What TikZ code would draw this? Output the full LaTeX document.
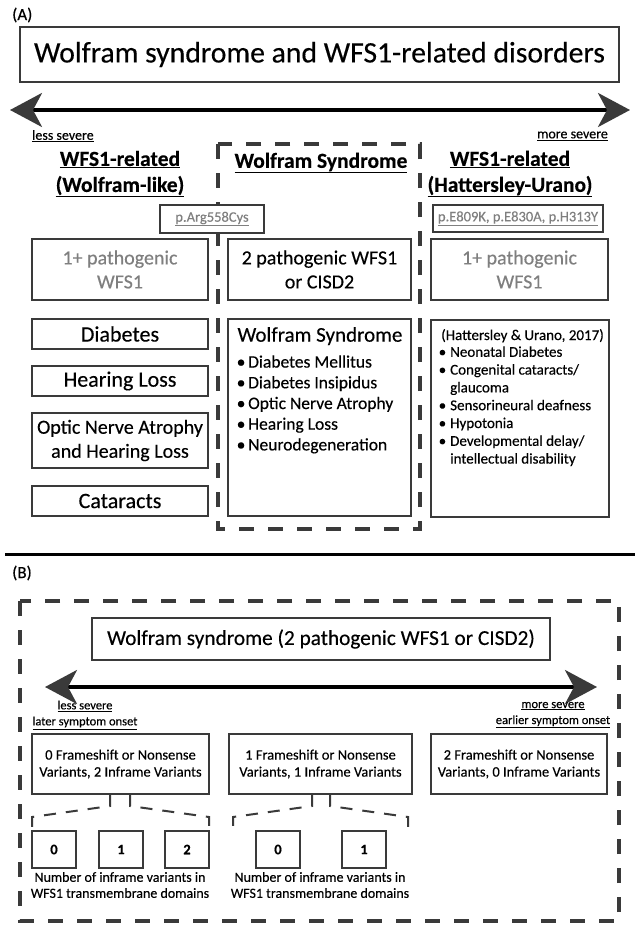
\documentclass[tikz,border=0pt]{standalone}
\usepackage{fontspec}
\setmainfont{Carlito}[FakeBold=0.3]
\usetikzlibrary{arrows.meta,calc}
\definecolor{dgray}{HTML}{3A3A3A}
\definecolor{tgray}{HTML}{7F7F7F}
\newcommand{\fsz}[2]{\fontsize{#1}{#2}\selectfont}
\newcommand{\bul}{\makebox[11.5pt][l]{\textbullet}}
\begin{document}
\begin{tikzpicture}[x=1pt,y=-1pt,
  box/.style={draw=dgray, line width=1.2pt, fill=white, inner sep=0pt, align=center},
  dashbox/.style={draw=dgray, line width=4pt, dash pattern=on 15pt off 14pt},
  brk/.style={draw=dgray, line width=2pt, dash pattern=on 12pt off 10pt},
  sev/.style={{Stealth[length=32pt,width=34pt,inset=9pt,color=dgray]}-{Stealth[length=32pt,width=34pt,inset=9pt,color=dgray]}, line width=3.5pt, draw=black},
  lbl/.style={inner sep=0pt, align=center},
  lft/.style={inner sep=0pt, anchor=base west},
]
\useasboundingbox (0,0) rectangle (640,931);
\fill[white] (0,0) rectangle (640,931);

% ---------------- Part A ----------------
\node[lbl, anchor=west, font=\fsz{17}{20}] (labA) at (12,15) {(A)};
\node[box, minimum width=599pt, minimum height=55pt, font=\fsz{29.7}{36}] (titleA) at (319.5,54.5) {Wolfram syndrome and WFS1-related disorders};

\coordinate (aL) at (10,110);
\coordinate (aR) at (630,110);
\draw[sev] (aL) -- (aR);

\node[lbl, anchor=west, font=\fsz{14}{16}] (lessA) at (32,136) {\underline{less severe}};
\node[lbl, anchor=east, font=\fsz{14}{16}] (moreA) at (608,136) {\underline{more severe}};

\node[lbl, font=\bfseries\fsz{21.5}{26}] (hL) at (120,174) {\underline{WFS1-related}\\\underline{(Wolfram-like)}};
\node[lbl, font=\bfseries\fsz{21.5}{26}] (hC) at (321,163) {\underline{Wolfram Syndrome}};
\node[lbl, font=\bfseries\fsz{21.5}{26}] (hR) at (510,174) {\underline{WFS1-related}\\\underline{(Hattersley-Urano)}};

% dashed frame round the Wolfram syndrome column
\draw[dashbox] (218,144) rectangle (420,529);

\node[box, minimum width=104pt, minimum height=28pt, font=\fsz{14.5}{17}, text=tgray] (pA) at (212,219) {\underline{p.Arg558Cys}};
\node[box, line width=1.7pt, minimum width=170pt, minimum height=27pt, font=\fsz{14.5}{17}, text=tgray] (pE) at (518,218.5) {\underline{p.E809K, p.E830A, p.H313Y}};

\node[box, minimum width=176pt, minimum height=61pt, font=\fsz{20}{24}, text=tgray] (r1L) at (120,269.5) {1+ pathogenic\\WFS1};
\node[box, minimum width=183pt, minimum height=61pt, font=\fsz{20}{24}] (r1C) at (319.5,269.5) {2 pathogenic WFS1\\or CISD2};
\node[box, minimum width=177pt, minimum height=61pt, font=\fsz{20}{24}, text=tgray] (r1R) at (519.5,269.5) {1+ pathogenic\\WFS1};

\node[box, minimum width=176pt, minimum height=30pt, font=\fsz{22}{26}] (dia) at (120,334) {Diabetes};
\node[box, minimum width=176pt, minimum height=30pt, font=\fsz{22}{26}] (hear) at (120,381) {Hearing Loss};
\node[box, minimum width=176pt, minimum height=55pt, font=\fsz{20}{24}] (optic) at (120,440.5) {Optic Nerve Atrophy\\and Hearing Loss};
\node[box, minimum width=176pt, minimum height=30pt, font=\fsz{22}{26}] (cat) at (120,501) {Cataracts};

\node[box, minimum width=183pt, minimum height=197pt] (ws) at (319.5,417.5) {};
\node[lbl, anchor=base, font=\fsz{21}{25}] (wsT) at (320,341.7) {Wolfram Syndrome};
\node[lft, font=\fsz{17.5}{20}] (ws1) at (236.5,367.6) {\bul Diabetes Mellitus};
\node[lft, font=\fsz{17.5}{20}] (ws2) at (236.5,388.3) {\bul Diabetes Insipidus};
\node[lft, font=\fsz{17.5}{20}] (ws3) at (236.5,409.0) {\bul Optic Nerve Atrophy};
\node[lft, font=\fsz{17.5}{20}] (ws4) at (236.5,429.7) {\bul Hearing Loss};
\node[lft, font=\fsz{17.5}{20}] (ws5) at (236.5,450.4) {\bul Neurodegeneration};

\node[box, minimum width=178pt, minimum height=197pt] (hu) at (520,418.5) {};
\node[lbl, anchor=base, font=\fsz{15}{18}] (hu0) at (522.5,340) {(Hattersley \& Urano, 2017)};
\node[lft, font=\fsz{15}{18}] (hu1) at (438.5,356.8) {\bul Neonatal Diabetes};
\node[lft, font=\fsz{15}{18}] (hu2) at (438.5,374.6) {\bul Congenital cataracts/};
\node[lft, font=\fsz{15}{18}] (hu3) at (438.5,392.4) {\makebox[11.5pt]{}glaucoma};
\node[lft, font=\fsz{15}{18}] (hu4) at (438.5,410.2) {\bul Sensorineural deafness};
\node[lft, font=\fsz{15}{18}] (hu5) at (438.5,428.0) {\bul Hypotonia};
\node[lft, font=\fsz{15}{18}] (hu6) at (438.5,445.8) {\bul Developmental delay/};
\node[lft, font=\fsz{15}{18}] (hu7) at (438.5,463.6) {\makebox[11.5pt]{}intellectual disability};

% separator
\coordinate (sepL) at (5,554);
\coordinate (sepR) at (635,554);
\draw[line width=3pt] (sepL) -- (sepR);

% ---------------- Part B ----------------
\node[lbl, anchor=west, font=\fsz{17}{20}] (labB) at (12,573) {(B)};
\draw[dashbox] (20,601) rectangle (619,921);

\node[box, minimum width=458pt, minimum height=42pt, font=\fsz{21.3}{25}] (titleB) at (321,639) {Wolfram syndrome (2 pathogenic WFS1 or CISD2)};

\coordinate (bL) at (45,687);
\coordinate (bR) at (597,687);
\draw[sev] (bL) -- (bR);

\node[lbl, font=\fsz{12.5}{16}] (lessB) at (85,715) {\underline{less severe}\\\underline{later symptom onset}};
\node[lbl, font=\fsz{12.5}{16}] (moreB) at (553,715) {\underline{more severe}\\\underline{earlier symptom onset}};

\node[box, minimum width=177pt, minimum height=60pt, font=\fsz{14.5}{17}] (b1) at (120.5,764) {0 Frameshift or Nonsense\\Variants, 2 Inframe Variants};
\node[box, minimum width=183pt, minimum height=60pt, font=\fsz{14.5}{17}] (b2) at (320.5,764) {1 Frameshift or Nonsense\\Variants, 1 Inframe Variants};
\node[box, minimum width=176pt, minimum height=60pt, font=\fsz{14.5}{17}] (b3) at (519,764) {2 Frameshift or Nonsense\\Variants, 0 Inframe Variants};

\node[box, minimum width=44pt, minimum height=37pt, font=\bfseries\fsz{14.5}{17}] (s0a) at (54,849.5) {0};
\node[box, minimum width=44pt, minimum height=37pt, font=\bfseries\fsz{14.5}{17}] (s1a) at (121,849.5) {1};
\node[box, minimum width=44pt, minimum height=37pt, font=\bfseries\fsz{14.5}{17}] (s2a) at (187,849.5) {2};
\node[box, minimum width=44pt, minimum height=37pt, font=\bfseries\fsz{14.5}{17}] (s0b) at (278,849.5) {0};
\node[box, minimum width=44pt, minimum height=37pt, font=\bfseries\fsz{14.5}{17}] (s1b) at (364,849.5) {1};

\node[lbl, font=\fsz{14}{16}] (cap1) at (120,885) {Number of inframe variants in\\WFS1 transmembrane domains};
\node[lbl, font=\fsz{14}{16}] (cap2) at (320,885) {Number of inframe variants in\\WFS1 transmembrane domains};

% bracket connectors
\coordinate (g1a) at (110,806); \coordinate (g1b) at (32,817);  \coordinate (g1c) at (32,827);
\coordinate (g1d) at (130,806); \coordinate (g1e) at (209,817); \coordinate (g1f) at (209,827);
\draw[brk] (b1.south -| g1a) -- (g1a) -- (g1b) -- (g1c);
\draw[brk] (b1.south -| g1d) -- (g1d) -- (g1e) -- (g1f);
\coordinate (g2a) at (312,806); \coordinate (g2b) at (233,817); \coordinate (g2c) at (233,827);
\coordinate (g2d) at (330,806); \coordinate (g2e) at (408,817); \coordinate (g2f) at (408,827);
\draw[brk] (b2.south -| g2a) -- (g2a) -- (g2b) -- (g2c);
\draw[brk] (b2.south -| g2d) -- (g2d) -- (g2e) -- (g2f);
\end{tikzpicture}
\end{document}
